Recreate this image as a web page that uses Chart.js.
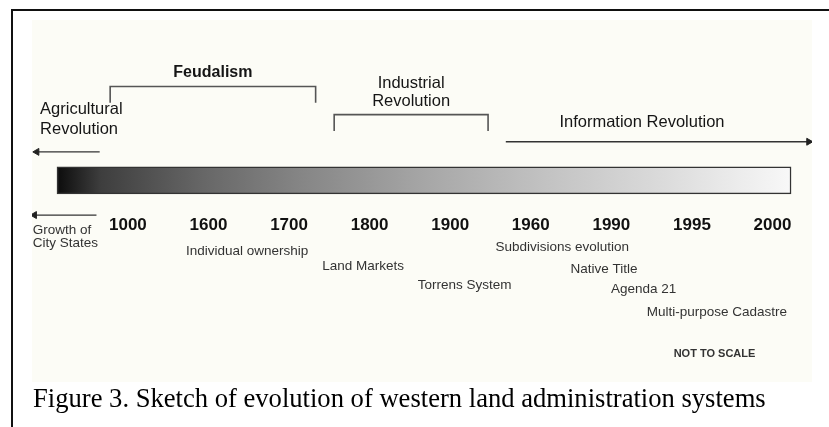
<!DOCTYPE html>
<html>
<head>
<meta charset="utf-8">
<title>Evolution of western land administration systems</title>
<script src="https://cdn.jsdelivr.net/npm/chart.js@4"></script>
<style>
  html, body { margin: 0; padding: 0; background: #fff; }
  #wrap { position: relative; width: 829px; height: 427px; overflow: hidden; }
  #frame { position: absolute; left: 11px; top: 9px; right: -10px; bottom: -10px;
           border-left: 2px solid #111; border-top: 2px solid #111; }
  #sketch { position: absolute; left: 0; top: 0; }
  #caption { position: absolute; left: 33px; top: 383px; white-space: nowrap;
             font: 26.6px "Liberation Serif", "Times New Roman", serif; color: #000; }
</style>
</head>
<body>
<div id="wrap">
  <div id="frame"></div>
  <canvas id="sketch" width="829" height="427"></canvas>
  <div id="caption">Figure 3. Sketch of evolution of western land administration systems</div>
</div>
<script>
// x is measured in "year slots" (the sketch is not to scale), y in % of the panel height
const yearLabels = ["1000", "1600", "1700", "1800", "1900", "1960", "1990", "1995", "2000"];
const timelineSpan = [-0.88, 8.23];
const timelineLevel = 44;
const yearLevel = 54.5;

const periodNames = [["Feudalism"], ["Industrial", "Revolution"]];
const periodFrom = [-0.22, 2.56];
const periodTo = [2.33, 4.47];
const periodLevel = [15.3, 23.9];

const trendNames = [["Agricultural", "Revolution"], ["Growth of", "City States"], ["Information Revolution"]];
const trendFrom = [-0.35, -0.39, 4.69];
const trendTo = [-1.13, -1.16, 8.45];
const trendLevel = [35.3, 54.6, 32.2];
const trendLabelAt = [-1.09, -1.18, 6.38];
const trendLabelLevel = [22.2, 59.4, 26.4];

const eventNames = ["Individual ownership", "Land Markets", "Torrens System", "Subdivisions evolution",
  "Native Title", "Agenda 21", "Multi-purpose Cadastre"];
const eventAt = [1.48, 2.92, 4.18, 5.39, 5.91, 6.40, 7.31];
const eventLevel = [65.6, 70.3, 76.1, 64.4, 71.1, 77.2, 84.2];

const noteText = "NOT TO SCALE";
const noteAt = 7.28;
const noteLevel = 96.9;

const SANS = '"Liberation Sans", Arial, sans-serif';

function barGradient(context) {
  const chart = context.chart;
  if (!chart.chartArea) return "#888";
  const x = chart.scales.x;
  const g = chart.ctx.createLinearGradient(x.getPixelForValue(timelineSpan[0]), 0, x.getPixelForValue(timelineSpan[1]), 0);
  g.addColorStop(0, "#0c0c0c");
  g.addColorStop(0.06, "#3e3e3e");
  g.addColorStop(0.2, "#676767");
  g.addColorStop(0.33, "#858585");
  g.addColorStop(0.51, "#a8a8a8");
  g.addColorStop(0.67, "#c3c3c3");
  g.addColorStop(0.82, "#dadada");
  g.addColorStop(1, "#f8f8f8");
  return g;
}

const datasets = [
  {
    type: "bar",
    indexAxis: "y",
    data: [{ x: timelineSpan, y: timelineLevel }],
    barThickness: 27,
    backgroundColor: barGradient,
    borderColor: "#333",
    borderWidth: 1.5,
    borderSkipped: false,
  },
];

periodNames.forEach((name, i) => {
  datasets.push({
    data: [
      { x: periodFrom[i], y: periodLevel[i] + 5 },
      { x: periodFrom[i], y: periodLevel[i] },
      { x: periodTo[i], y: periodLevel[i] },
      { x: periodTo[i], y: periodLevel[i] + 5 },
    ],
    showLine: true,
    borderColor: "#555",
    borderWidth: 1.6,
    pointRadius: 0,
  });
});

trendNames.forEach((name, i) => {
  const right = trendTo[i] > trendFrom[i];
  datasets.push({
    data: [
      { x: trendFrom[i], y: trendLevel[i] },
      { x: trendTo[i], y: trendLevel[i] },
    ],
    showLine: true,
    borderColor: "#333",
    borderWidth: 1.3,
    pointRadius: [0, 4],
    pointStyle: "triangle",
    pointRotation: right ? 90 : -90,
    pointBackgroundColor: "#222",
    pointBorderColor: "#222",
    pointBorderWidth: 1,
  });
});

const sketchText = {
  id: "sketchText",
  beforeDraw(chart) {
    const { ctx, chartArea: a } = chart;
    ctx.save();
    ctx.fillStyle = "#fcfcf6";
    ctx.fillRect(a.left, a.top, a.right - a.left, a.bottom - a.top + 2);
    ctx.restore();
  },
  afterDatasetsDraw(chart) {
    const { ctx, scales: { x, y } } = chart;
    const put = (text, vx, vy, font, align, color) => {
      ctx.font = font;
      ctx.textAlign = align;
      ctx.textBaseline = "middle";
      ctx.fillStyle = color;
      ctx.fillText(text, x.getPixelForValue(vx), y.getPixelForValue(vy));
    };
    ctx.save();
    periodNames.forEach((lines, i) => {
      const mid = (periodFrom[i] + periodTo[i]) / 2;
      lines.slice().reverse().forEach((line, k) => {
        put(line, mid, periodLevel[i] - 4.1 - k * 5.3, lines.length > 1 ? `16.5px ${SANS}` : `bold 16px ${SANS}`, "center", "#151515");
      });
    });
    trendNames.forEach((lines, i) => {
      const small = i === 1;
      lines.forEach((line, k) => {
        put(line, trendLabelAt[i], trendLabelLevel[i] + k * (small ? 3.8 : 6.1),
          small ? `13.5px ${SANS}` : `16.5px ${SANS}`, lines.length > 1 ? "left" : "center", small ? "#333" : "#151515");
      });
    });
    eventNames.forEach((name, i) => {
      put(name, eventAt[i], eventLevel[i], `13.5px ${SANS}`, "center", "#333");
    });
    put(noteText, noteAt, noteLevel, `bold 11px ${SANS}`, "center", "#333");
    ctx.restore();
  },
};

new Chart(document.getElementById("sketch"), {
  type: "scatter",
  data: { datasets },
  options: {
    responsive: false,
    animation: false,
    layout: { padding: { left: 32, right: 17, top: 20, bottom: 47 } },
    plugins: { legend: { display: false }, tooltip: { enabled: false } },
    scales: {
      x: {
        type: "linear",
        min: -1.19,
        max: 8.49,
        position: { y: yearLevel },
        grid: { display: false, drawTicks: false },
        border: { display: false },
        ticks: {
          stepSize: 1,
          includeBounds: false,
          autoSkip: false,
          maxRotation: 0,
          padding: 0,
          color: "#111",
          font: { family: SANS, size: 17, weight: "bold" },
          callback: (v) => (Number.isInteger(v) && yearLabels[v]) || "",
        },
      },
      y: {
        type: "linear",
        min: 0,
        max: 100,
        reverse: true,
        display: false,
      },
    },
  },
  plugins: [sketchText],
});
</script>
</body>
</html>
